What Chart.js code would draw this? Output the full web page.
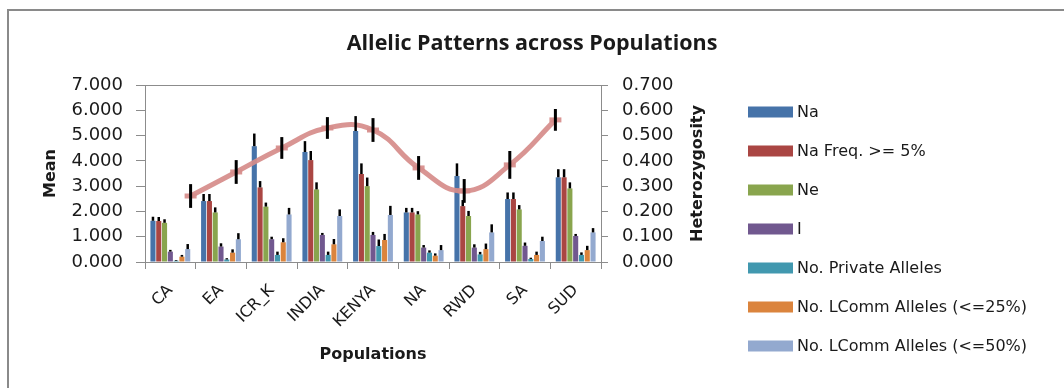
<!DOCTYPE html>
<html>
<head>
<meta charset="utf-8">
<script src="https://cdn.jsdelivr.net/npm/chart.js@4.4.1/dist/chart.umd.min.js"></script>
<style>
  html, body { margin: 0; padding: 0; background: #fff; }
  #wrap { position: relative; width: 1064px; height: 388px; overflow: hidden; }
  canvas { display: block; }
</style>
</head>
<body>
<div id="wrap"><canvas id="c" width="1064" height="388"></canvas></div>
<script>
// ---- data ----
const populations = ['CA', 'EA', 'ICR_K', 'INDIA', 'KENYA', 'NA', 'RWD', 'SA', 'SUD'];

const na        = [1.63, 2.41, 4.58, 4.35, 5.18, 1.96, 3.40, 2.49, 3.35];
const naFreq5   = [1.62, 2.41, 2.95, 4.03, 3.48, 1.96, 2.21, 2.49, 3.35];
const ne        = [1.55, 1.96, 2.19, 2.87, 3.00, 1.88, 1.82, 2.08, 2.91];
const shannonI  = [0.41, 0.61, 0.90, 1.07, 1.07, 0.57, 0.57, 0.64, 1.03];
const privateAl = [0.05, 0.10, 0.28, 0.28, 0.63, 0.37, 0.30, 0.12, 0.28];
const lcomm25   = [0.21, 0.37, 0.78, 0.70, 0.87, 0.25, 0.51, 0.28, 0.47];
const lcomm50   = [0.51, 0.90, 1.88, 1.82, 1.86, 0.47, 1.17, 0.83, 1.17];

const naErr        = [0.16, 0.28, 0.50, 0.43, 0.59, 0.18, 0.50, 0.26, 0.32];
const naFreq5Err   = [0.16, 0.28, 0.25, 0.36, 0.42, 0.18, 0.24, 0.26, 0.32];
const neErr        = [0.14, 0.20, 0.16, 0.28, 0.34, 0.13, 0.20, 0.17, 0.24];
const shannonIErr  = [0.07, 0.13, 0.10, 0.08, 0.12, 0.10, 0.13, 0.13, 0.08];
const privateAlErr = [0.03, 0.05, 0.13, 0.13, 0.26, 0.09, 0.10, 0.05, 0.10];
const lcomm25Err   = [0.07, 0.13, 0.16, 0.21, 0.24, 0.09, 0.22, 0.13, 0.17];
const lcomm50Err   = [0.20, 0.24, 0.26, 0.26, 0.36, 0.20, 0.32, 0.17, 0.17];

const heterozygosity    = [0.261, 0.356, 0.451, 0.530, 0.522, 0.372, 0.281, 0.384, 0.562];
const heterozygosityErr = [0.047, 0.047, 0.043, 0.043, 0.047, 0.047, 0.047, 0.055, 0.043];

const leftTicks  = [0, 1, 2, 3, 4, 5, 6, 7];
const rightTicks = [0, 0.1, 0.2, 0.3, 0.4, 0.5, 0.6, 0.7];

const seriesNames = ['Na', 'Na Freq. >= 5%', 'Ne', 'I', 'No. Private Alleles',
                     'No. LComm Alleles (<=25%)', 'No. LComm Alleles (<=50%)'];
const seriesColors = ['#4673A9', '#AA4643', '#89A54E', '#71588F', '#4198AF', '#DB843D', '#93A9CF'];
const barValues = [na, naFreq5, ne, shannonI, privateAl, lcomm25, lcomm50];
const barErrors = [naErr, naFreq5Err, neErr, shannonIErr, privateAlErr, lcomm25Err, lcomm50Err];

// ---- chart ----
const AXIS_GRAY = '#8c8c8c';
const TEXT = '#1a1a1a';
const FONT = '"DejaVu Sans", Verdana, sans-serif';

// x axis spans the 9 population slots (index -0.5 .. 8.5).
const X_MIN = -0.5, X_MAX = populations.length - 0.5;
// The heterozygosity line sits on Excel's secondary category axis, which splits the
// same width into (n + 1) slots; point i is placed on the (i + 1)-th slot boundary.
const lineSlot = (X_MAX - X_MIN) / (populations.length + 1);

const datasets = barValues.map((vals, i) => ({
  type: 'bar',
  label: seriesNames[i],
  data: vals.map((v, j) => ({ x: j, y: v })),
  backgroundColor: seriesColors[i],
  borderWidth: 0,
  xAxisID: 'x',
  yAxisID: 'y',
  barPercentage: 0.88,
  categoryPercentage: 0.8,
  order: 1,
  errors: barErrors[i]
}));

datasets.push({
  type: 'line',
  label: 'Heterozygosity',
  data: heterozygosity.map((v, i) => ({ x: X_MIN + lineSlot * (i + 1), y: v })),
  borderColor: 'rgba(214,140,138,0.92)',
  backgroundColor: 'rgba(214,140,138,0.92)',
  borderWidth: 5,
  tension: 0.45,
  pointStyle: 'line',
  pointRadius: 6,
  pointBorderWidth: 5,
  pointHoverRadius: 6,
  xAxisID: 'x',
  yAxisID: 'y1',
  order: 0,
  errors: heterozygosityErr
});

const errorBars = {
  id: 'errorBars',
  afterDatasetsDraw(chart) {
    const ctx = chart.ctx;
    ctx.save();
    ctx.strokeStyle = '#000';
    ctx.lineCap = 'butt';
    chart.data.datasets.forEach((ds, di) => {
      const meta = chart.getDatasetMeta(di);
      const ys = chart.scales[ds.yAxisID];
      meta.data.forEach((el, j) => {
        const err = ds.errors[j];
        const v = ds.data[j].y;
        ctx.beginPath();
        if (ds.type === 'line') {
          ctx.lineWidth = 3;
          ctx.moveTo(el.x, ys.getPixelForValue(v + err));
          ctx.lineTo(el.x, ys.getPixelForValue(v - err));
        } else {
          ctx.lineWidth = 2.5;
          ctx.moveTo(el.x, ys.getPixelForValue(v));
          ctx.lineTo(el.x, ys.getPixelForValue(v + err));
        }
        ctx.stroke();
      });
    });
    ctx.restore();
  }
};

// Frame, right-axis title and legend (Chart.js limits a side legend to a narrow box)
const decorations = {
  id: 'decorations',
  beforeDraw(chart) {
    const ctx = chart.ctx;
    ctx.save();
    ctx.fillStyle = '#fff';
    ctx.fillRect(0, 0, chart.width, chart.height);
    ctx.strokeStyle = '#8a8a8a';
    ctx.lineWidth = 2;
    ctx.beginPath();
    ctx.moveTo(8, 400);
    ctx.lineTo(8, 10);
    ctx.lineTo(1080, 10);
    ctx.stroke();
    ctx.restore();
  },
  afterDraw(chart) {
    const ctx = chart.ctx;
    const area = chart.chartArea;
    ctx.save();
    ctx.fillStyle = TEXT;
    ctx.font = 'bold 16px ' + FONT;
    ctx.textAlign = 'center';
    ctx.textBaseline = 'middle';
    ctx.translate(698, (area.top + area.bottom) / 2);
    ctx.rotate(-Math.PI / 2);
    ctx.fillText('Heterozygosity', 0, 0);
    ctx.restore();

    // legend
    ctx.save();
    ctx.font = '16px ' + FONT;
    ctx.textAlign = 'left';
    ctx.textBaseline = 'middle';
    const x0 = 748, y0 = 112, step = 39, bw = 45, bh = 11;
    chart.data.datasets.forEach((ds, i) => {
      if (ds.type !== 'bar') return;
      const cy = y0 + i * step;
      ctx.fillStyle = ds.backgroundColor;
      ctx.fillRect(x0, cy - bh / 2, bw, bh);
      ctx.fillStyle = TEXT;
      ctx.fillText(ds.label, x0 + bw + 4, cy + 1);
    });
    ctx.restore();
  }
};

new Chart(document.getElementById('c'), {
  type: 'bar',
  data: { labels: populations, datasets },
  plugins: [decorations, errorBars],
  options: {
    responsive: false,
    animation: false,
    devicePixelRatio: 1,
    layout: { padding: { left: 0, right: 0, top: 0, bottom: 0 } },
    plugins: {
      title: {
        display: true,
        text: 'Allelic Patterns across Populations',
        color: TEXT,
        font: { family: '"Open Sans", sans-serif', size: 21.5, weight: 'bold', lineHeight: 1.2 },
        padding: { top: 31, bottom: 28.2 }
      },
      legend: { display: false },
      tooltip: { enabled: false }
    },
    scales: {
      x: {
        type: 'linear',
        position: 'bottom',
        min: X_MIN,
        max: X_MAX,
        offset: false,
        afterBuildTicks(s) { s.ticks = populations.map((p, i) => ({ value: i })); },
        grid: { drawOnChartArea: false, offset: true, tickLength: 7, color: AXIS_GRAY, tickColor: AXIS_GRAY },
        border: { display: true, color: AXIS_GRAY, width: 1 },
        ticks: {
          color: TEXT,
          font: { family: FONT, size: 16 },
          minRotation: 45, maxRotation: 45, autoSkip: false, padding: 12,
          callback: (v, i) => populations[i]
        },
        title: {
          display: true, text: 'Populations', color: TEXT,
          font: { family: FONT, size: 16, weight: 'bold', lineHeight: 1.2 },
          padding: { top: 0, bottom: 24 }
        },
        afterFit(s) { s.height = 126; }
      },
      y: {
        type: 'linear',
        position: 'left',
        min: 0, max: 7,
        afterBuildTicks(s) { s.ticks = leftTicks.map(v => ({ value: v })); },
        grid: {
          drawOnChartArea: true,
          tickLength: 9,
          color: (c) => (c.tick && c.tick.value === 7) ? AXIS_GRAY : 'rgba(0,0,0,0)',
          tickColor: AXIS_GRAY
        },
        border: { display: true, color: AXIS_GRAY, width: 1 },
        ticks: {
          color: TEXT,
          padding: 13,
          font: { family: FONT, size: 18 },
          callback: (v) => Number(v).toFixed(3)
        },
        title: {
          display: true, text: 'Mean', color: TEXT,
          font: { family: FONT, size: 16, weight: 'bold', lineHeight: 1.2 },
          padding: { top: 41, bottom: 0 }
        },
        afterFit(s) { s.width = 145; }
      },
      y1: {
        type: 'linear',
        position: 'right',
        min: 0, max: 0.7,
        afterBuildTicks(s) { s.ticks = rightTicks.map(v => ({ value: v })); },
        grid: { drawOnChartArea: false, tickLength: 7, color: AXIS_GRAY, tickColor: AXIS_GRAY },
        border: { display: true, color: AXIS_GRAY, width: 1 },
        ticks: {
          color: TEXT,
          padding: 14,
          font: { family: FONT, size: 18 },
          callback: (v) => Number(v).toFixed(3)
        },
        afterFit(s) { s.width = 463; }
      }
    }
  }
});
</script>
</body>
</html>
